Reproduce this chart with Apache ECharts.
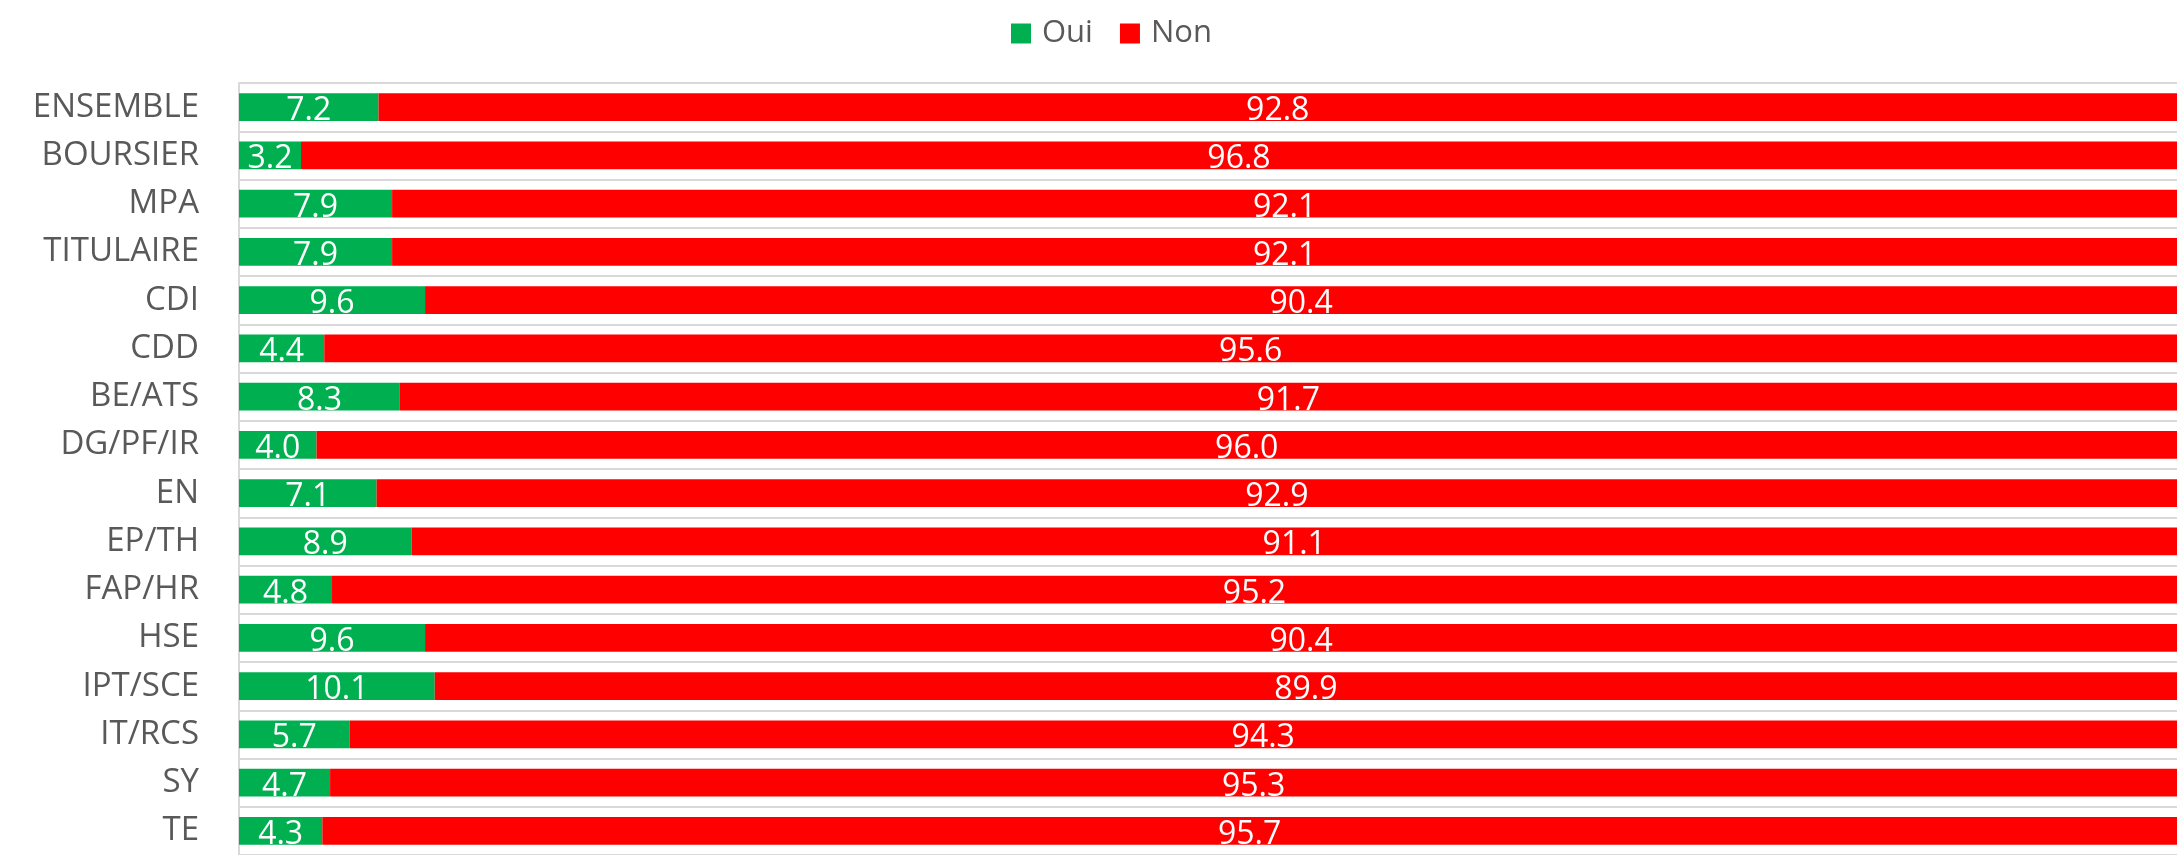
<!DOCTYPE html>
<html>
<head>
<meta charset="utf-8">
<script src="https://cdn.jsdelivr.net/npm/echarts@6/dist/echarts.min.js"></script>
<style>
  html, body { margin: 0; padding: 0; background: #fff; }
  #main-chart { width: 2178px; height: 855px; }
</style>
</head>
<body>
<div id="main-chart"></div>
<script>
// catégories (de haut en bas)
const categories = ['ENSEMBLE', 'BOURSIER', 'MPA', 'TITULAIRE', 'CDI', 'CDD', 'BE/ATS', 'DG/PF/IR',
  'EN', 'EP/TH', 'FAP/HR', 'HSE', 'IPT/SCE', 'IT/RCS', 'SY', 'TE']
const ouiValues = [7.2, 3.2, 7.9, 7.9, 9.6, 4.4, 8.3, 4.0, 7.1, 8.9, 4.8, 9.6, 10.1, 5.7, 4.7, 4.3]
const nonValues = [92.8, 96.8, 92.1, 92.1, 90.4, 95.6, 91.7, 96.0, 92.9, 91.1, 95.2, 90.4, 89.9, 94.3, 95.3, 95.7]

const myChart = echarts.init(document.getElementById('main-chart'))

const barLabel = {
  show: true,
  position: 'inside',
  color: '#ffffff',
  fontFamily: 'Open Sans',
  fontSize: 32,
  offset: [0, 4],
  formatter: p => p.value.toFixed(1)
}

const option = {
  animation: false,
  color: ['#00b050', '#ff0000'],
  legend: {
    left: 1006,
    top: 13,
    itemWidth: 20,
    itemHeight: 20,
    itemGap: 27,
    icon: 'rect',
    textStyle: {
      color: '#595959',
      fontFamily: 'Open Sans',
      fontSize: 31,
      padding: [0, 0, 0, 6]
    },
    data: ['Oui', 'Non']
  },
  grid: {
    top: 83,
    left: 239,
    right: 1,
    bottom: -6,
    containLabel: false
  },
  xAxis: {
    type: 'value',
    min: 0,
    max: 100,
    show: false
  },
  yAxis: {
    type: 'category',
    inverse: true,
    data: categories,
    axisTick: { show: false },
    axisLine: {
      show: true,
      lineStyle: { color: '#d9d9d9', width: 2 }
    },
    axisLabel: {
      color: '#595959',
      fontFamily: 'Open Sans',
      fontSize: 33,
      margin: 40
    },
    splitLine: {
      show: true,
      lineStyle: { color: '#d9d9d9', width: 2 }
    }
  },
  series: [
    {
      name: 'Oui',
      type: 'bar',
      stack: 'total',
      barCategoryGap: '42%',
      label: barLabel,
      data: ouiValues
    },
    {
      name: 'Non',
      type: 'bar',
      stack: 'total',
      barCategoryGap: '42%',
      label: barLabel,
      data: nonValues
    }
  ]
}

myChart.setOption(option)

window.addEventListener('resize', function () {
  myChart.resize()
})
</script>
</body>
</html>
